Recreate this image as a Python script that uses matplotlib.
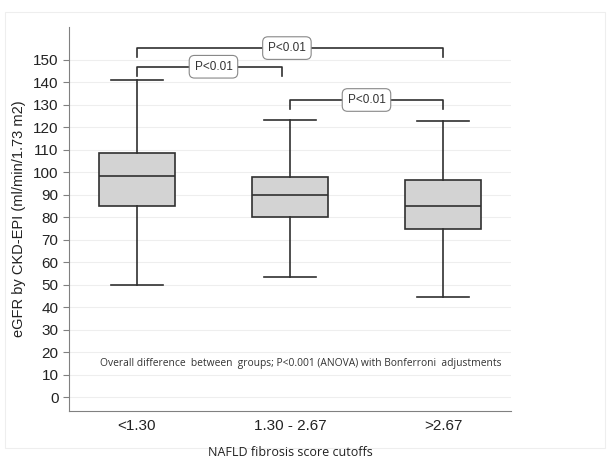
import matplotlib
matplotlib.use("Agg")
import matplotlib.pyplot as plt
from matplotlib.patches import Rectangle

groups = ["<1.30", "1.30 - 2.67", ">2.67"]
whislo = [50, 53.5, 44.5]
q1 = [85, 80, 75]
med = [98.5, 90, 85]
q3 = [108.5, 98, 96.5]
whishi = [141, 123.5, 123]

# brackets: (from group, to group, bar height, label x)
brackets = [(1, 3, 155.3, 1.98), (1, 1.95, 147, 1.5), (2, 3, 132.2, 2.5)]
p_label = "P<0.01"
note = "Overall difference  between  groups; P<0.001 (ANOVA) with Bonferroni  adjustments"

plt.rcParams['font.family'] = ['Liberation Sans', 'DejaVu Sans']
fig = plt.figure(figsize=(6.09, 4.61), dpi=100)
ax = fig.add_axes([0.1133, 0.1085, 0.7257, 0.833])

stats = []
for i in range(3):
    stats.append(dict(whislo=whislo[i], q1=q1[i], med=med[i], q3=q3[i], whishi=whishi[i], fliers=[]))
ax.bxp(stats, positions=[1, 2, 3], widths=0.5, patch_artist=True, showfliers=False,
       boxprops=dict(facecolor="#d3d3d3", edgecolor="#303030", linewidth=1.2),
       medianprops=dict(color="#303030", linewidth=1.2),
       whiskerprops=dict(color="#303030", linewidth=1.2),
       capprops=dict(color="#303030", linewidth=1.2), capwidths=0.34)

for a, b, h, lx in brackets:
    ax.plot([a, a, b, b], [h - 4, h, h, h - 4], color="#303030", lw=1.2, zorder=3)
    ax.text(lx, h, p_label, ha="center", va="center", fontsize=8.5, family="Liberation Sans",
            color="#333333", zorder=4,
            bbox=dict(boxstyle="round,pad=0.45", fc="white", ec="#888888", lw=0.8))

ax.text(2.07, 15, note, ha="center", va="center", fontsize=7.4, family="Open Sans", color="#333333")

ax.set_xlim(0.556, 3.444)
ax.set_ylim(-6.2, 164.7)
ax.set_yticks(range(0, 151, 10))
ax.set_xticks([1, 2, 3])
ax.set_xticklabels(groups)
ax.yaxis.grid(True, color="#eeeeee", lw=0.8)
ax.set_axisbelow(True)
for s in ["top", "right"]:
    ax.spines[s].set_visible(False)
for s in ["left", "bottom"]:
    ax.spines[s].set_color("#808080")
ax.tick_params(axis="y", labelsize=11, length=4, color="#808080", colors="#222222")
ax.tick_params(axis="x", labelsize=11, length=0, pad=6, colors="#222222")
ax.set_ylabel("eGFR by CKD-EPI (ml/min/1.73 m2)", fontsize=10.5, color="#222222", labelpad=5)
fig.text(0.476, 0.004, "NAFLD fibrosis score cutoffs", ha="center", va="bottom",
         fontsize=9, family="Open Sans", color="#222222")

fig.patches.append(Rectangle((0.008, 0.028), 0.985, 0.945, transform=fig.transFigure,
                             fill=False, ec="#eeeeee", lw=0.8))

fig.savefig("out.png", dpi=100)
